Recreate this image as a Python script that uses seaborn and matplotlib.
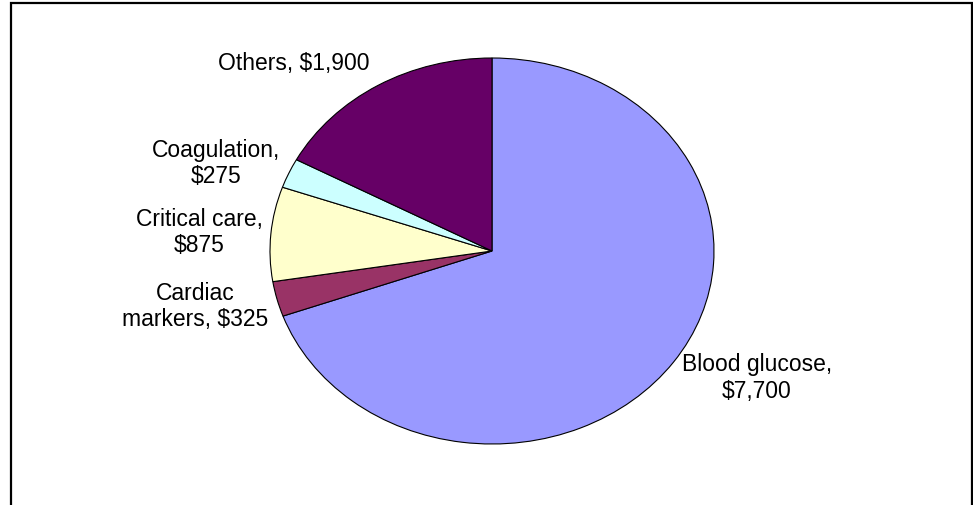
"""Point-of-care testing market by segment, Excel-style pie with outside labels."""
import matplotlib

matplotlib.use("Agg")
import matplotlib.pyplot as plt
import matplotlib.patches as mpatches
import numpy as np
import seaborn as sns

categories = ["Blood glucose", "Cardiac markers", "Critical care", "Coagulation", "Others"]
values = [7700, 325, 875, 275, 1900]
label_text = ["Blood glucose,\n$7,700", "Cardiac\nmarkers, $325", "Critical care,\n$875",
              "Coagulation,\n$275", "Others, $1,900"]
colors = ["#9999FF", "#993366", "#FFFFCC", "#CCFFFF", "#660066"]

sns.set_style("white")
plt.rcParams["font.family"] = ["Liberation Sans", "DejaVu Sans"]

W, H, DPI = 973, 506, 100
fig = plt.figure(figsize=(W / DPI, H / DPI), dpi=DPI)
ax = fig.add_axes([0, 0, 1, 1])

wedges, _ = ax.pie(values, colors=sns.color_palette(colors), startangle=90, counterclock=False,
                   wedgeprops=dict(edgecolor="black", linewidth=0.8))

# stretch the pie into an ellipse like the original (rx=222px, ry=193px, centre 492,252)
rx, ry, cx, cy = 222, 193, 492, H - 252
ax.set_aspect("auto")
ax.set_xlim(-cx / rx, (W - cx) / rx)
ax.set_ylim(-cy / ry, (H - cy) / ry)
ax.axis("off")

for w, txt in zip(wedges, label_text):
    mid = np.deg2rad((w.theta1 + w.theta2) / 2)
    c, s = np.cos(mid), np.sin(mid)
    ax.annotate(txt, xy=(c, s), xytext=(6 * np.sign(c), 19 * s), textcoords="offset points",
                ha="left" if c > 0 else "right", va="center", multialignment="center",
                fontsize=16.5, linespacing=1.2, color="black")

# chart-area border (bottom edge is cut off in the original)
fig.patches.append(mpatches.Rectangle((11 / W, -0.05), 961 / W, (H - 4) / H + 0.05,
                                      transform=fig.transFigure, fill=False,
                                      edgecolor="black", linewidth=1.6))

plt.savefig("out.png", dpi=DPI)
plt.close()
